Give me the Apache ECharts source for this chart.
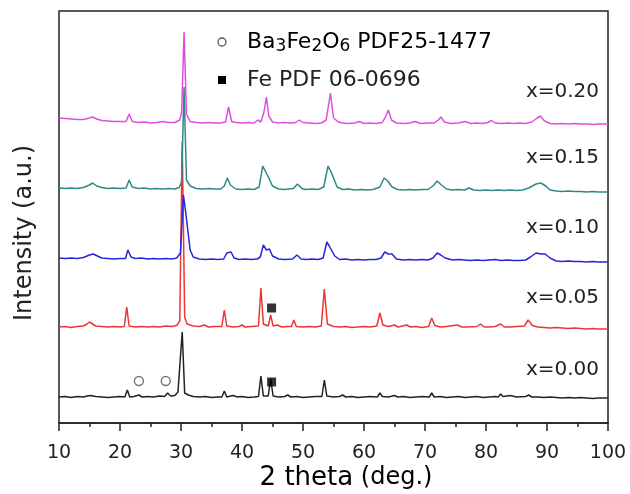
<!DOCTYPE html>
<html>
<head>
<meta charset="utf-8">
<script src="https://cdn.jsdelivr.net/npm/echarts@6/dist/echarts.min.js"></script>
<style>html,body{margin:0;padding:0;background:#fff}#c{width:630px;height:494px}</style>
</head>
<body>
<div id="c"></div>
<script>
// ---- data (2theta, relative intensity) ----
const xTicks = [10,20,30,40,50,60,70,80,90,100];
const seriesNames = ['x=0.00','x=0.05','x=0.10','x=0.15','x=0.20'];
const offsets = [26, 96, 165, 235, 305];
const colors = ['#222222','#ee3535','#2626d8','#2e8a82','#e04ee0'];

const black = [[10,0],[11,0.5],[12,-0.5],[13,0.5],[14,0],[14.6,1],[15.2,1.5],[16,0.5],[17,0],[18,-0.5],[19,0],[20,0.5],[20.8,0],[21.2,7],[21.6,0],[22.3,0.5],[23.1,2],[23.6,0],[24.5,0.5],[25.5,0],[26.5,1],[27.3,0.5],[27.8,4],[28.3,1],[29,1.5],[29.5,5],[29.8,3],[30.2,65],[30.6,4],[31.2,2],[32,0.5],[33,0],[34,0.5],[35,-0.5],[36,0],[36.7,0],[37.1,6],[37.5,0],[38.5,1.5],[39.3,0],[40,0.5],[41,-0.5],[42,0],[42.7,0.5],[43.1,21],[43.5,1],[44.3,1],[44.7,18],[45.1,1],[46,0],[47,0.5],[47.5,2],[48,0],[49,0.5],[50,-0.5],[51,0],[52,0.5],[53.1,0.5],[53.5,17],[53.9,1],[55,0],[56,0.5],[56.5,2],[57,0],[58,0.5],[59,-0.5],[60,0],[61,0.5],[62.2,0],[62.6,4],[63,0.5],[64,0],[65,1.5],[65.5,0],[66.5,0.5],[67.5,-0.5],[68.5,0],[69.5,0.5],[70.7,0],[71.1,4],[71.5,0],[72.5,0.5],[73.5,-0.5],[74.5,0],[75.5,0.5],[76.5,-0.5],[77.5,0],[78.5,0.5],[79.5,-0.5],[80.5,0],[81.5,0.5],[82,0],[82.4,3],[82.8,0.5],[84,1.5],[85,0],[86.5,0.5],[87,2],[87.5,0],[88.5,0],[89.5,-0.5],[90.5,0],[91.5,-0.5],[92.5,-1],[93.5,-0.5],[94.5,-1],[95.5,-0.5],[96.5,-1],[97.5,-1.5],[98.5,-1],[99.5,-1],[100,-1]];

const red = [[10,0],[11,0.5],[12,-0.5],[13,0.5],[14,1],[14.6,3],[15,5],[15.5,3],[16,1],[17,0.5],[18,0],[19,0.5],[20,0],[20.7,0.5],[21.1,20],[21.5,1],[22.5,0],[23.5,0.5],[24.5,0],[25.5,0.5],[26.5,0],[27.5,1],[28.5,0.5],[29.3,1.5],[29.8,6],[30.2,185],[30.6,10],[31,3],[32,1],[33,0.5],[33.8,2],[34.5,0],[35.5,0.5],[36.7,0.5],[37.1,17],[37.5,1],[38.5,0],[39.5,0.5],[40,2],[40.5,0],[41.5,0.5],[42.7,1],[43.1,39],[43.5,3],[44.3,1],[44.7,12],[45.1,1],[45.8,2],[46.5,0],[47.5,0.5],[48.1,0.5],[48.5,7],[48.9,0.5],[50,0],[51,0.5],[52,0],[53,1],[53.5,38],[54,3],[55,0.5],[56,0],[57,0.5],[58,-0.5],[59,0],[60,0.5],[61,0],[62.1,1],[62.6,14],[63.1,2],[64,0.5],[65,2],[65.6,0],[67,2],[67.6,0],[68.5,0.5],[69.5,-0.5],[70.6,0.5],[71.1,9],[71.6,1.5],[72.5,0],[73.5,0.5],[75.3,2],[76,0],[77,0],[78.5,0.5],[79.1,3],[79.7,0],[80.5,0],[81.5,0.5],[82.4,3],[83,0],[84,0],[85,0.5],[86.3,1],[86.9,7],[87.6,1.5],[88.5,0],[89.5,-0.5],[90.5,-1],[91.5,-0.5],[92.5,-1],[93.5,-1.5],[94.5,-1],[95.5,-1.5],[96.5,-2],[97.5,-1.5],[98.5,-2],[99.5,-2],[100,-2]];

const blue = [[10,0],[11,-0.5],[12,0],[13,-0.5],[14,0.5],[15,3],[15.6,4],[16.3,2],[17,0],[18,-0.5],[19,-1],[20,-0.5],[20.9,-0.5],[21.3,8],[21.8,1],[22.5,-0.5],[23.5,0],[24.5,-1],[25.5,-0.5],[26.5,-1],[27.5,-0.5],[28.5,-1],[29.3,0],[29.9,5],[30.4,63],[30.8,44],[31.1,45],[31.5,8],[32,1],[33,-1],[34,-1.5],[35,-1],[36,-1.5],[37,-1],[37.5,5],[37.8,7],[38.2,6],[38.7,0],[39.5,-1.5],[40.5,-1],[41.5,-1.5],[42.5,-1],[43,1],[43.5,13],[44,8],[44.5,9],[45,2],[46,-1],[47,-1.5],[48.3,-1],[49,3],[49.7,-1],[50.5,-1.5],[51.5,-1],[52.5,-1.5],[53.3,0],[53.9,16],[54.3,12],[54.6,11],[55.2,2],[56,-1.5],[57,-1],[58,-2],[59,-1.5],[60,-2],[61,-1.5],[62,-1.5],[62.8,0],[63.4,6],[64,4],[64.6,4],[65.3,-1],[66.5,-2],[67.5,-1.5],[68.5,-2],[69.5,-1.5],[70.5,-2],[71.3,0],[72,5],[72.6,3],[73.3,0],[74.5,-2],[75.5,-1.5],[76.5,-2],[77.5,-2.5],[78.5,-2],[79.5,-2.5],[80.5,-2],[81.5,-1.5],[82.5,-2.5],[83.5,-2],[84.5,-2.5],[85.5,-2.5],[86.5,-2],[87.3,1],[88.2,5],[89,4],[89.7,4],[90.5,0],[91.5,-3],[92.5,-3.5],[93.5,-3],[94.5,-3.5],[95.5,-3.5],[96.5,-4],[97.5,-3.5],[98.5,-4],[99.5,-4],[100,-4]];

const teal = [[10,0],[11,-0.5],[12,0],[13,-0.5],[14,0.5],[15,3],[15.5,5],[16.2,2],[17,0.5],[18,-0.5],[19,0],[20,-0.5],[21,0],[21.5,8],[22,1],[23,-0.5],[24,0],[25,-1],[26,-0.5],[27,-1],[28,-0.5],[29,-1],[29.7,0.5],[30.1,6],[30.5,101],[30.9,8],[31.5,2],[32.5,-0.5],[33.5,-1],[34.5,-0.5],[35.5,-1],[36.5,-1],[37.1,2],[37.6,10],[38.1,3],[39,-1],[40,-1.5],[41,-1],[42,-1.5],[42.8,1],[43.4,22],[43.9,16],[44.4,10],[45,2],[46,-1],[47,-1.5],[48.4,-0.5],[49.1,4],[49.8,-0.5],[50.5,-1.5],[51.5,-1],[52.5,-1.5],[53.4,1],[54.1,22],[54.6,16],[55,10],[55.6,1],[56.5,-1.5],[57.5,-1],[58.5,-2],[59.5,-1.5],[60.5,-2],[61.5,-1.5],[62.6,1],[63.3,10],[63.9,7],[64.6,1],[65.5,-1.5],[66.5,-2],[67.5,-1.5],[68.5,-2],[69.5,-1.5],[70.5,-1.5],[71.3,2],[72,7],[72.7,3],[73.5,-1],[74.5,-2],[75.5,-1.5],[76.5,-2],[77.2,0],[78,-2],[79,-2.5],[80,-2],[81,-2.5],[82,-2],[83,-2.5],[84,-2],[85,-2.5],[86,-2],[87,0],[88.2,4],[89,5],[89.8,2],[90.5,-2],[91.5,-3],[92.5,-3.5],[93.5,-3],[94.5,-3.5],[95.5,-3.5],[96.5,-4],[97.5,-3.5],[98.5,-4],[99.5,-4],[100,-4]];

const magenta = [[10,0],[11,-0.5],[12,-1],[13,-1.5],[14,-1.5],[15,0],[15.5,1],[16.2,-1],[17,-2.5],[18,-3],[19,-3.5],[20,-3.5],[21,-3.5],[21.5,4],[22,-3.5],[23,-4.5],[24,-4],[25,-5],[26,-4.5],[27,-3.5],[28,-4.5],[29,-4.5],[29.8,-2],[30.1,6],[30.5,86],[30.9,4],[31.5,-3.5],[32.5,-4.5],[33.5,-5],[34.5,-4.5],[35.5,-5],[36.5,-5],[37.3,-4],[37.8,11],[38.3,-3.5],[39,-4.5],[40,-5],[41,-4.5],[42,-5],[42.6,-2],[43.1,-4],[43.6,6],[44,21],[44.4,2],[45,-4],[46,-5],[47,-4.5],[48,-5],[48.8,-4.5],[49.4,-2],[50,-4.5],[51,-5],[52,-5.5],[53,-5],[53.8,-2],[54.5,25],[55,0],[55.8,-4],[56.5,-5],[57.5,-5.5],[58.5,-5],[59.2,-3.5],[60,-5.5],[61,-5],[62,-5.5],[63,-4.5],[63.6,2],[64,8],[64.5,-2],[65.3,-5],[66.5,-5.5],[67.5,-5],[68.4,-3.5],[69.2,-5.5],[70.5,-5],[71.5,-5],[72.2,-2],[72.6,1],[73.2,-4],[74.2,-5.5],[75.5,-5],[76.6,-3.5],[77.5,-5.5],[78.5,-5],[79.5,-5.5],[80.3,-4.5],[80.9,-2.5],[81.5,-5],[82.5,-5.5],[83.5,-5],[84.5,-5.5],[85.5,-5],[86.5,-5.5],[87.5,-4],[88.4,0],[88.9,2],[89.6,-3],[90.5,-5.5],[91.5,-6],[92.5,-5.5],[93.5,-6],[94.5,-5.5],[95.5,-6],[96.5,-6],[97.5,-6.5],[98.5,-6],[99.5,-6],[100,-6]];

const patterns = [black, red, blue, teal, magenta];

// phase markers (2theta, stacked intensity position)
const ba3fe2o6Marks = [[23.1, 42], [27.5, 42]];
const feMarks = [[44.85, 41], [44.85, 115]];

// label vertical positions in pixels (text layout)
const labelY = [370, 298, 228, 158, 92];

const FONT = '"DejaVu Sans", sans-serif';
const chart = echarts.init(document.getElementById('c'), null, {renderer:'canvas'});

const lineSeries = patterns.map((arr, i) => ({
  type: 'line',
  name: seriesNames[i],
  data: arr.map(p => [p[0], p[1] + offsets[i]]),
  showSymbol: false,
  symbol: 'none',
  silent: true,
  animation: false,
  lineStyle: { color: colors[i], width: 1.5 },
  z: 2 + i
}));

const option = {
  animation: false,
  grid: { left: 59, right: 22, top: 11, bottom: 71, show: true, borderColor: '#222', borderWidth: 1.5, backgroundColor: 'transparent' },
  xAxis: {
    type: 'value', min: 10, max: 100, interval: 10,
    axisLine: { show: true, onZero: false, lineStyle: { color: '#222', width: 1.5 } },
    axisTick: { show: true, inside: false, length: 8, lineStyle: { color: '#222', width: 1.5 } },
    minorTick: { show: true, splitNumber: 2, length: 4, lineStyle: { color: '#222', width: 1.5 } },
    splitLine: { show: false },
    minorSplitLine: { show: false },
    axisLabel: { fontFamily: FONT, fontSize: 19, color: '#222', margin: 21,
      formatter: v => xTicks.includes(v) ? String(v) : '' }
  },
  yAxis: {
    type: 'value', min: 0, max: 412,
    axisLine: { show: false }, axisTick: { show: false }, axisLabel: { show: false }, splitLine: { show: false }
  },
  series: [
    ...lineSeries,
    { type: 'scatter', name: 'Ba3Fe2O6', data: ba3fe2o6Marks, symbol: 'circle', symbolSize: 9,
      itemStyle: { color: '#fff', borderColor: '#555', borderWidth: 1.4 }, z: 20, silent: true },
    { type: 'scatter', name: 'Fe', data: feMarks, symbol: 'rect', symbolSize: 9,
      itemStyle: { color: '#000' }, z: 20, silent: true }
  ],
  graphic: [
    ...seriesNames.map((n, i) => ({
      type: 'text', x: 599, y: labelY[i], z: 30,
      style: { text: n, font: '20px ' + FONT, fill: '#222', align: 'right', verticalAlign: 'middle', textAlign: 'right', textVerticalAlign: 'middle' }
    })),
    { type: 'circle', shape: { cx: 222, cy: 42, r: 4 }, style: { fill: '#fff', stroke: '#555', lineWidth: 1.3 }, z: 30 },
    { type: 'rect', shape: { x: 218, y: 76, width: 8, height: 8 }, style: { fill: '#000' }, z: 30 },
    { type: 'text', x: 247, y: 42, z: 30,
      style: { text: '{n|Ba}{s|3}{n|Fe}{s|2}{n|O}{s|6}{n| PDF25-1477}', verticalAlign: 'middle', textVerticalAlign: 'middle',
        rich: {
          n: { fontFamily: FONT, fontSize: 22, color: '#222', lineHeight: 26, verticalAlign: 'middle' },
          s: { fontFamily: FONT, fontSize: 17, color: '#222', lineHeight: 18, padding: [16, 0, 0, 0], verticalAlign: 'bottom' }
        } } },
    { type: 'text', x: 247, y: 80, z: 30,
      style: { text: 'Fe PDF 06-0696', font: '22px ' + FONT, fill: '#222', verticalAlign: 'middle', textVerticalAlign: 'middle' } },
    { type: 'text', x: 346, y: 478, z: 30,
      style: { text: '{a|2 theta}{b| (deg.)}', align: 'center', textAlign: 'center', verticalAlign: 'middle', textVerticalAlign: 'middle',
        rich: {
          a: { fontFamily: FONT, fontSize: 26, color: '#222' },
          b: { fontFamily: FONT, fontSize: 24, color: '#222' }
        } } },
    { type: 'text', x: 25, y: 233, rotation: Math.PI / 2, z: 30,
      style: { text: 'Intensity (a.u.)', font: '24px ' + FONT, fill: '#222', align: 'center', textAlign: 'center', verticalAlign: 'middle', textVerticalAlign: 'middle' } }
  ]
};
chart.setOption(option);
</script>
</body>
</html>
